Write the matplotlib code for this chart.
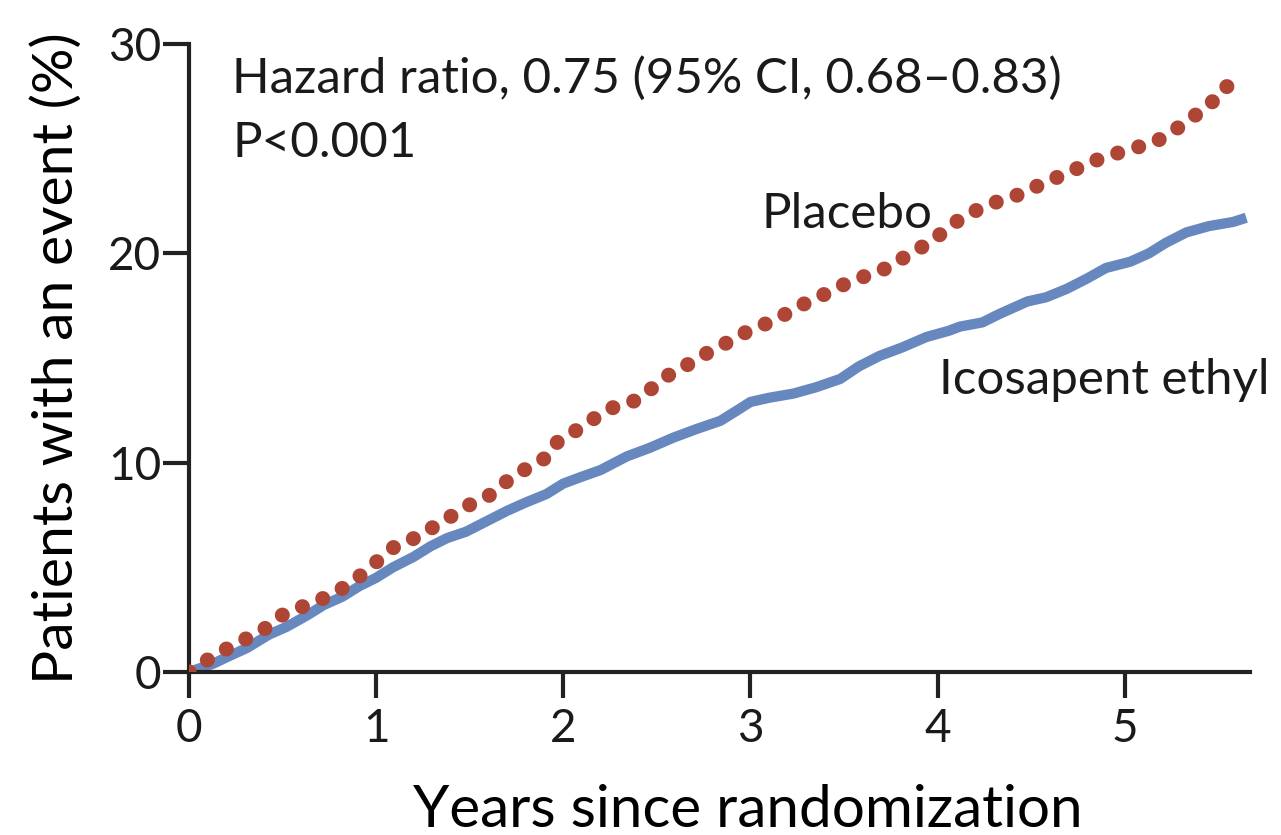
import matplotlib
matplotlib.use("Agg")
import matplotlib.pyplot as plt

# Data (years, % with event)
placebo_x = [0.0, 0.12, 0.22, 0.33, 0.42, 0.51, 0.63, 0.74, 0.84, 0.93, 1.02, 1.10, 1.22, 1.32,
             1.43, 1.52, 1.62, 1.71, 1.80, 1.92, 1.97, 2.08, 2.18, 2.28, 2.40, 2.48, 2.58,
             2.69, 2.78, 2.89, 2.99, 3.10, 3.21, 3.31, 3.41, 3.52, 3.64, 3.76, 3.85, 3.96,
             4.04, 4.13, 4.24, 4.36, 4.47, 4.57, 4.69, 4.80, 4.93, 5.04, 5.16, 5.27, 5.36,
             5.45, 5.52, 5.64]
placebo_y = [0.0, 0.7, 1.2, 1.7, 2.15, 2.8, 3.2, 3.6, 4.1, 4.7, 5.4, 6.0, 6.45, 7.0,
             7.6, 8.1, 8.5, 9.2, 9.7, 10.3, 11.0, 11.6, 12.2, 12.7, 13.0, 13.6, 14.3,
             14.8, 15.3, 15.8, 16.3, 16.7, 17.2, 17.7, 18.1, 18.6, 19.0, 19.4, 20.0, 20.5,
             21.1, 21.7, 22.2, 22.6, 22.9, 23.4, 23.8, 24.3, 24.7, 25.0, 25.3, 25.9, 26.5,
             27.0, 27.9, 28.2]

icosa_x = [0.0, 0.13, 0.20, 0.31, 0.43, 0.52, 0.63, 0.72, 0.82, 0.91, 1.00, 1.09, 1.20, 1.29,
           1.38, 1.48, 1.59, 1.70, 1.80, 1.91, 2.00, 2.09, 2.20, 2.34, 2.46, 2.59, 2.71,
           2.84, 2.93, 3.00, 3.10, 3.23, 3.35, 3.48, 3.58, 3.69, 3.81, 3.94, 4.06, 4.12,
           4.24, 4.33, 4.48, 4.58, 4.69, 4.80, 4.90, 5.03, 5.13, 5.22, 5.33, 5.45, 5.58, 5.65]
icosa_y = [0.0, 0.4, 0.7, 1.15, 1.8, 2.15, 2.7, 3.2, 3.6, 4.1, 4.5, 5.0, 5.5, 6.0,
           6.4, 6.7, 7.2, 7.7, 8.1, 8.5, 9.0, 9.3, 9.65, 10.3, 10.7, 11.2, 11.6,
           12.0, 12.5, 12.9, 13.1, 13.3, 13.6, 14.0, 14.6, 15.1, 15.5, 16.0, 16.3, 16.5,
           16.7, 17.1, 17.7, 17.9, 18.3, 18.8, 19.3, 19.6, 20.0, 20.5, 21.0, 21.3, 21.5, 21.7]

x_ticks = [0, 1, 2, 3, 4, 5]
y_ticks = [0, 10, 20, 30]

RED = "#AF4535"
BLUE = "#6688BF"
TXT = "#1a1a1a"

fig = plt.figure(figsize=(12.81, 8.35), dpi=100)
ax = fig.add_axes([189 / 1281, 1 - 672 / 835, (1250 - 189) / 1281, (672 - 44) / 835])

ax.plot(icosa_x, icosa_y, color=BLUE, lw=7.4, solid_capstyle="butt", zorder=2)
ax.plot(placebo_x, placebo_y, color=RED, lw=10.8, linestyle=(0, (0.01, 1.45)),
        dash_capstyle="round", zorder=3)

ax.set_xlim(0, 5.67)
ax.set_ylim(0, 30)
ax.set_xticks(x_ticks)
ax.set_yticks(y_ticks)
for s in ["top", "right"]:
    ax.spines[s].set_visible(False)
for s in ["left", "bottom"]:
    ax.spines[s].set_linewidth(3)
    ax.spines[s].set_color("#222222")
ax.tick_params(axis="both", length=19, width=3, color="#222222", labelcolor=TXT,
               labelsize=33)
ax.tick_params(axis="y", pad=1)
ax.tick_params(axis="x", pad=7)
for lbl in ax.get_xticklabels() + ax.get_yticklabels():
    lbl.set_family("Lato")

ax.set_xlabel("Years since randomization", fontsize=42, family="Lato", labelpad=18,
              color="black")
ax.xaxis.set_label_coords((748 - 189) / (1250 - 189), -0.178)
ax.set_ylabel("Patients with an event (%)", fontsize=41, family="Lato", labelpad=18,
              color="black")

FS = 35.5
ax.text(0.23, 27.66, "Hazard ratio, 0.75 (95% CI, 0.68\u20130.83)", fontsize=FS,
        family="Lato", color=TXT, va="baseline", ha="left")
ax.text(0.23, 24.6, "P<0.001", fontsize=FS, family="Lato", color=TXT, va="baseline", ha="left")
ax.text(3.06, 21.2, "Placebo", fontsize=FS, family="Lato", color=TXT, va="baseline", ha="left")
ax.text(4.01, 13.3, "Icosapent ethyl", fontsize=FS, family="Lato", color=TXT,
        va="baseline", ha="left", clip_on=False)

fig.savefig("out.png", dpi=100)
